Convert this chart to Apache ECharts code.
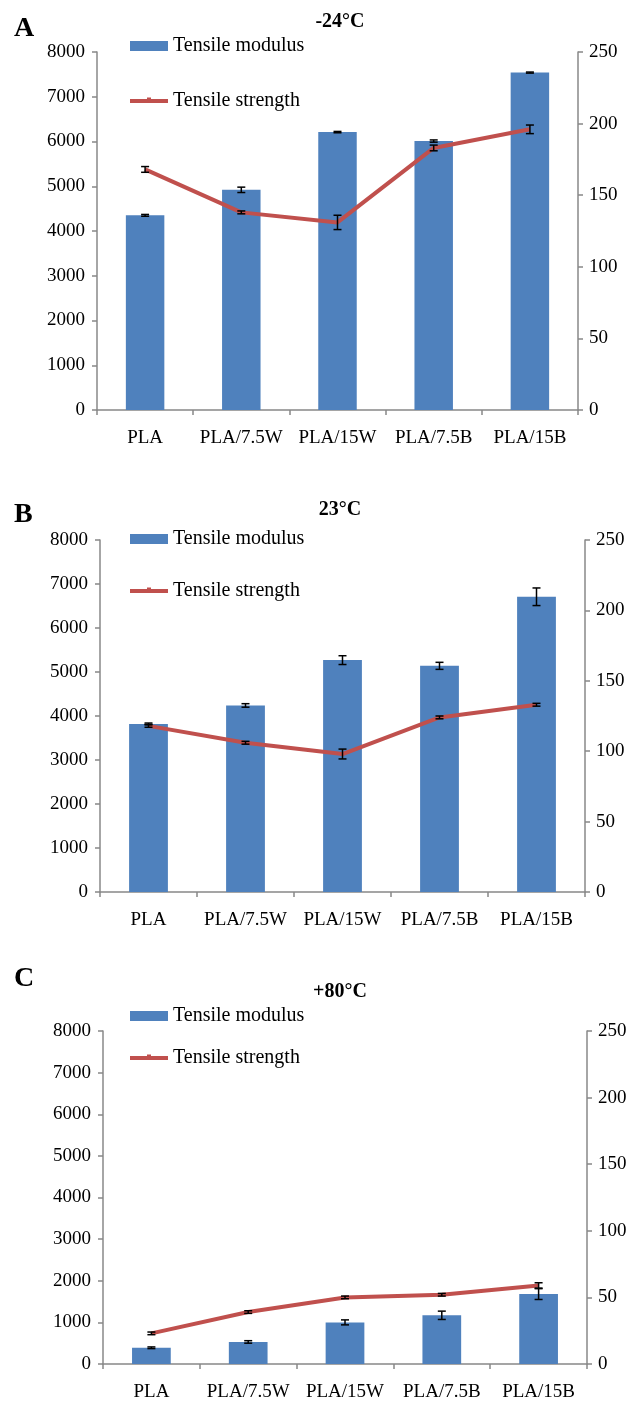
<!DOCTYPE html>
<html>
<head>
<meta charset="utf-8">
<script src="https://cdn.jsdelivr.net/npm/echarts@6/dist/echarts.min.js"></script>
<style>
html, body { margin: 0; padding: 0; background: #fff; }
#chart { width: 643px; height: 1402px; }
</style>
</head>
<body>
<div id="chart"></div>
<script>
const categories = ['PLA', 'PLA/7.5W', 'PLA/15W', 'PLA/7.5B', 'PLA/15B'];
const leftTicks = [0, 8000, 1000];   // min, max, interval
const rightTicks = [0, 250, 50];

// -24°C
const modulusA = [4350, 4920, 6210, 6010, 7540];
const modulusErrA = [20, 60, 15, 25, 12];
const strengthA = [168, 138, 131, 183, 196];
const strengthErrA = [2, 1, 5, 2, 3];
// 23°C
const modulusB = [3820, 4240, 5270, 5140, 6710];
const modulusErrB = [20, 40, 100, 80, 200];
const strengthB = [118, 106, 98, 124, 133];
const strengthErrB = [1, 1, 3.5, 1, 1];
// +80°C
const modulusC = [390, 530, 1000, 1170, 1680];
const modulusErrC = [20, 30, 60, 100, 130];
const strengthC = [23, 39, 50, 52, 59];
const strengthErrC = [1, 1, 1, 1, 2];

const FONT = 'Liberation Serif';
const BLUE = '#4F81BD';
const RED = '#C0504D';
const AXIS = '#888888';

const panels = [
    { letter: 'A', title: '-24°C', modulus: modulusA, modulusErr: modulusErrA, strength: strengthA, strengthErr: strengthErrA,
      grid: { left: 97, right: 65, top: 52, height: 358 }, letterY: 30, titleY: 22, legendTop: 31, legendGap: 35 },
    { letter: 'B', title: '23°C', modulus: modulusB, modulusErr: modulusErrB, strength: strengthB, strengthErr: strengthErrB,
      grid: { left: 100, right: 58, top: 540, height: 352 }, letterY: 516, titleY: 510, legendTop: 524, legendGap: 32 },
    { letter: 'C', title: '+80°C', modulus: modulusC, modulusErr: modulusErrC, strength: strengthC, strengthErr: strengthErrC,
      grid: { left: 103, right: 56, top: 1031, height: 339 }, letterY: 980, titleY: 992, legendTop: 1001, legendGap: 22 },
];

function errorItem(params, api) {
    const x = api.value(0);
    const hi = api.coord([x, api.value(1) + api.value(2)]);
    const lo = api.coord([x, api.value(1) - api.value(2)]);
    const w = 4;
    const style = { stroke: '#000', lineWidth: 1.5 };
    return {
        type: 'group',
        children: [
            { type: 'line', shape: { x1: hi[0], y1: hi[1], x2: lo[0], y2: lo[1] }, style },
            { type: 'line', shape: { x1: hi[0] - w, y1: hi[1], x2: hi[0] + w, y2: hi[1] }, style },
            { type: 'line', shape: { x1: lo[0] - w, y1: lo[1], x2: lo[0] + w, y2: lo[1] }, style }
        ]
    };
}

const labelStyle = { color: '#000', fontFamily: FONT, fontSize: 19 };
const axisLine = { show: true, lineStyle: { color: AXIS, width: 1.5 } };
const axisTick = { show: true, length: 5, lineStyle: { color: AXIS, width: 1.5 } };
// thick line with a small dash in the middle, like the legend key in the figure
const lineIcon = 'path://M0,0 M38,10 M0,3 L38,3 L38,7 L0,7 Z M17,1.5 L21,1.5 L21,4 L17,4 Z';

let grid = [], xAxis = [], yAxis = [], series = [], legend = [], graphic = [];

panels.forEach((p, i) => {
    grid.push(p.grid);
    xAxis.push({
        type: 'category', gridIndex: i, data: categories,
        axisLine, axisTick,
        axisLabel: Object.assign({ margin: 19, interval: 0 }, labelStyle)
    });
    yAxis.push({
        type: 'value', gridIndex: i, position: 'left',
        min: leftTicks[0], max: leftTicks[1], interval: leftTicks[2],
        splitLine: { show: false }, axisLine, axisTick,
        axisLabel: Object.assign({ margin: 12, formatter: v => String(v) }, labelStyle)
    });
    yAxis.push({
        type: 'value', gridIndex: i, position: 'right',
        min: rightTicks[0], max: rightTicks[1], interval: rightTicks[2],
        splitLine: { show: false }, axisLine, axisTick,
        axisLabel: Object.assign({ margin: 11, formatter: v => String(v) }, labelStyle)
    });

    series.push({
        name: 'Tensile modulus', type: 'bar', xAxisIndex: i, yAxisIndex: 2 * i,
        data: p.modulus, barWidth: '40%', itemStyle: { color: BLUE }
    });
    series.push({
        name: 'modulus error', type: 'custom', xAxisIndex: i, yAxisIndex: 2 * i,
        renderItem: errorItem, encode: { x: 0, y: 1 }, z: 5,
        data: p.modulus.map((v, k) => [k, v, p.modulusErr[k]])
    });
    series.push({
        name: 'Tensile strength', type: 'line', xAxisIndex: i, yAxisIndex: 2 * i + 1,
        data: p.strength, symbol: 'none', z: 4,
        lineStyle: { color: RED, width: 4 }, itemStyle: { color: RED }
    });
    series.push({
        name: 'strength error', type: 'custom', xAxisIndex: i, yAxisIndex: 2 * i + 1,
        renderItem: errorItem, encode: { x: 0, y: 1 }, z: 6,
        data: p.strength.map((v, k) => [k, v, p.strengthErr[k]])
    });

    legend.push({
        data: [
            { name: 'Tensile modulus', icon: 'rect' },
            { name: 'Tensile strength', icon: lineIcon }
        ],
        orient: 'vertical', left: 125, top: p.legendTop,
        itemWidth: 38, itemHeight: 10, itemGap: p.legendGap,
        selectedMode: false,
        textStyle: { color: '#000', fontFamily: FONT, fontSize: 20 }
    });

    graphic.push({
        type: 'text', left: 14, top: p.letterY - 15,
        style: { text: p.letter, font: 'bold 28px "Liberation Serif"', fill: '#000' }
    });
    graphic.push({
        type: 'text', x: 340, y: p.titleY,
        style: { text: p.title, font: 'bold 20px "Liberation Serif"', fill: '#000',
                 textAlign: 'center', textVerticalAlign: 'middle' }
    });
});

const myChart = echarts.init(document.getElementById('chart'));
myChart.setOption({
    animation: false,
    backgroundColor: '#fff',
    grid, xAxis, yAxis, series, legend, graphic
});
</script>
</body>
</html>
